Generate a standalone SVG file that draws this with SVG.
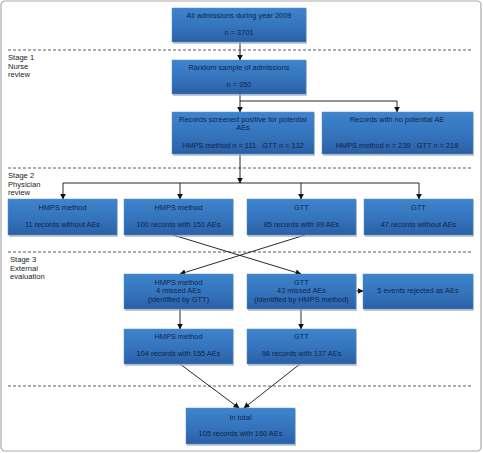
<svg xmlns="http://www.w3.org/2000/svg" width="483" height="453" viewBox="0 0 483 453">
<defs>
<linearGradient id="g" x1="0" y1="0" x2="0" y2="1">
<stop offset="0" stop-color="#3e84cc"/>
<stop offset="0.6" stop-color="#3372bb"/>
<stop offset="1" stop-color="#2a5fa4"/>
</linearGradient>
<marker id="ah" viewBox="0 0 10 10" refX="9" refY="5" markerWidth="6" markerHeight="6" orient="auto" markerUnits="userSpaceOnUse">
<path d="M0,0 L10,5 L0,10 z" fill="#111"/>
</marker>
</defs>
<style>
.box{fill:url(#g);stroke:#5a8fc8;stroke-width:0.5}
.sh{fill:#9aa6b4;opacity:0.6}
.t{font-family:"Liberation Sans",Arial,sans-serif;font-size:7.4px;fill:#10244a;text-anchor:middle;white-space:pre}
.s{font-family:"Liberation Sans",Arial,sans-serif;font-size:7.6px;fill:#222}
.d{stroke:#333;stroke-width:0.8;stroke-dasharray:3,2;fill:none}
.c{stroke:#111;stroke-width:0.9;fill:none}
.a{stroke:#111;stroke-width:0.9;fill:none;marker-end:url(#ah)}
</style>
<rect x="1" y="1" width="480" height="450" rx="4" fill="#fff" stroke="#aaa" stroke-width="1.2"/>
<g id="dividers">
<line class="d" x1="8" y1="50" x2="473" y2="50"/>
<line class="d" x1="8" y1="168" x2="473" y2="168"/>
<line class="d" x1="8" y1="252" x2="473" y2="252"/>
<line class="d" x1="8" y1="386" x2="473" y2="386"/>
</g>
<g id="stages">
<text class="s" x="8" y="60">Stage 1</text>
<text class="s" x="8" y="68.5">Nurse</text>
<text class="s" x="8" y="77">review</text>
<text class="s" x="8" y="178">Stage 2</text>
<text class="s" x="8" y="186.5">Physician</text>
<text class="s" x="8" y="195">review</text>
<text class="s" x="10" y="262">Stage 3</text>
<text class="s" x="10" y="270.5">External</text>
<text class="s" x="10" y="279">evaluation</text>
</g>
<g id="connectors">
<line class="a" x1="240" y1="42" x2="240" y2="60"/>
<polyline class="c" points="240,94 240,101 397,101"/>
<line class="a" x1="240" y1="101" x2="240" y2="112"/>
<line class="a" x1="397" y1="101" x2="397" y2="112"/>
<line class="a" x1="240" y1="154" x2="240" y2="183"/>
<line class="c" x1="63" y1="183" x2="419" y2="183"/>
<line class="a" x1="63" y1="183" x2="63" y2="199"/>
<line class="a" x1="180" y1="183" x2="180" y2="199"/>
<line class="a" x1="301" y1="183" x2="301" y2="199"/>
<line class="a" x1="419" y1="183" x2="419" y2="199"/>
<line class="a" x1="173" y1="235" x2="301" y2="274"/>
<line class="a" x1="305" y1="235" x2="180" y2="274"/>
<line class="a" x1="356" y1="291" x2="363" y2="291"/>
<line class="a" x1="180" y1="309" x2="180" y2="329"/>
<line class="a" x1="301" y1="309" x2="301" y2="329"/>
<line class="a" x1="180" y1="364" x2="239" y2="408"/>
<line class="a" x1="300" y1="364" x2="244" y2="408"/>
</g>
<g id="n1"><rect class="sh" x="173" y="9" width="134" height="35"/><rect class="box" x="172" y="8" width="134" height="34"/>
<text class="t" x="239" y="17.5">All admissions during year 2009</text><text class="t" x="239" y="35">n = 3701</text></g>
<g id="n2"><rect class="sh" x="173" y="61" width="134" height="35"/><rect class="box" x="172" y="60" width="134" height="34"/>
<text class="t" x="239" y="69.5">Random sample of admissions</text><text class="t" x="239" y="86.5">n = 350</text></g>
<g id="n3"><rect class="sh" x="173" y="113" width="142" height="43"/><rect class="box" x="172" y="112" width="142" height="42"/>
<text class="t" x="243" y="121.5">Records screened positive for potential</text><text class="t" x="243" y="130">AEs</text><text class="t" x="243" y="147.5" xml:space="preserve">HMPS method n = 111   GTT n = 132</text></g>
<g id="n4"><rect class="sh" x="323" y="113" width="151" height="43"/><rect class="box" x="322" y="112" width="151" height="42"/>
<text class="t" x="397" y="121.5">Records with no potential AE</text><text class="t" x="397" y="147.5" xml:space="preserve">HMPS method n = 239   GTT n = 218</text></g>
<g id="n5"><rect class="sh" x="9" y="200" width="109" height="37"/><rect class="box" x="8" y="199" width="109" height="36"/>
<text class="t" x="62.5" y="209.5">HMPS method</text><text class="t" x="62.5" y="226.5">11 records without AEs</text></g>
<g id="n6"><rect class="sh" x="125" y="200" width="109" height="37"/><rect class="box" x="124" y="199" width="109" height="36"/>
<text class="t" x="178.5" y="209.5">HMPS method</text><text class="t" x="178.5" y="226.5">100 records with 151 AEs</text></g>
<g id="n7"><rect class="sh" x="248" y="200" width="109" height="37"/><rect class="box" x="247" y="199" width="109" height="36"/>
<text class="t" x="301.5" y="209.5">GTT</text><text class="t" x="301.5" y="226.5">85 records with 99 AEs</text></g>
<g id="n8"><rect class="sh" x="365" y="200" width="109" height="37"/><rect class="box" x="364" y="199" width="109" height="36"/>
<text class="t" x="418.5" y="209.5">GTT</text><text class="t" x="418.5" y="226.5">47 records without AEs</text></g>
<g id="n9"><rect class="sh" x="125" y="275" width="109" height="36"/><rect class="box" x="124" y="274" width="109" height="35"/>
<text class="t" x="178.5" y="284.5">HMPS method</text><text class="t" x="178.5" y="293">4 missed AEs</text><text class="t" x="178.5" y="301.5">(identified by GTT)</text></g>
<g id="n10"><rect class="sh" x="248" y="275" width="109" height="36"/><rect class="box" x="247" y="274" width="109" height="35"/>
<text class="t" x="301.5" y="284.5">GTT</text><text class="t" x="301.5" y="293">43 missed AEs</text><text class="t" x="301.5" y="301.5">(identified by HMPS method)</text></g>
<g id="n11"><rect class="sh" x="364" y="275" width="110" height="36"/><rect class="box" x="363" y="274" width="110" height="35"/>
<text class="t" x="418" y="293">5 events rejected as AEs</text></g>
<g id="n12"><rect class="sh" x="125" y="330" width="109" height="36"/><rect class="box" x="124" y="329" width="109" height="35"/>
<text class="t" x="178.5" y="338.5">HMPS method</text><text class="t" x="178.5" y="356">104 records with 155 AEs</text></g>
<g id="n13"><rect class="sh" x="248" y="330" width="109" height="36"/><rect class="box" x="247" y="329" width="109" height="35"/>
<text class="t" x="301.5" y="338.5">GTT</text><text class="t" x="301.5" y="356">98 records with 137 AEs</text></g>
<g id="n14"><rect class="sh" x="187" y="409" width="109" height="37"/><rect class="box" x="186" y="408" width="109" height="36"/>
<text class="t" x="240.5" y="419.5">In total</text><text class="t" x="240.5" y="436">105 records with 160 AEs</text></g>
</svg>
